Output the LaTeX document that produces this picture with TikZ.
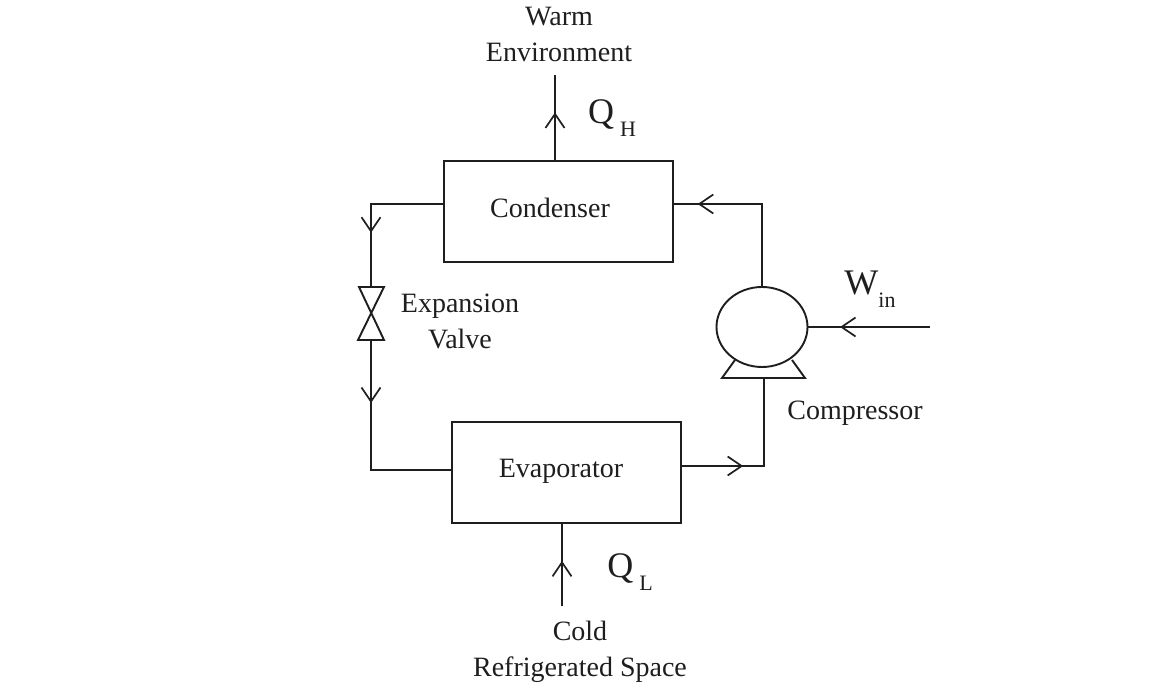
\documentclass[tikz,border=0pt]{standalone}
\usepackage{fontspec}
\setmainfont{Liberation Serif}
\usetikzlibrary{arrows.meta,decorations.markings,positioning,shapes.geometric}
\definecolor{inkline}{HTML}{1E1E1E}
\newcommand{\quantity}[3]{{\fontsize{36}{36}\selectfont #1}\hspace{#3}\raisebox{-13pt}{\fontsize{22}{22}\selectfont #2}}
\tikzset{x=1pt,y=-1pt,
    every path/.style={line width=1.9pt},
    unitbox/.style={draw,rectangle,minimum width=229pt,minimum height=101pt,inner sep=0},
    pumpbody/.style={draw,ellipse,minimum width=91pt,minimum height=80pt,inner sep=0},
    tag/.style={text=inkline,font=\fontsize{28}{36}\selectfont,inner sep=0,align=center},
    flow/.style={postaction={decorate,decoration={markings,mark=at position #1 with {\arrow[line width=1.7pt]{Straight Barb[length=14pt,width=19pt]}}}}}}
\begin{document}
\begin{tikzpicture}[color=inkline]
\useasboundingbox (0,0) rectangle (1165,684);

\node (condenser) [unitbox] at (558.5,211.5) {};
\node (evaporator) [unitbox] at (566.5,472.5) {};
\node (compressor) [pumpbody] at (762,327) {};

\node (condenser text) [tag] at (550,208) {Condenser};
\node (evaporator text) [tag] at (561,471) {Evaporator};
\node (compressor text) [tag] at (855,413) {Compressor};
\node (valve text) [tag] at (460,321) {Expansion\\Valve};
\node (warm text) [tag] at (559,34) {Warm\\Environment};
\node (cold text) [tag] at (580,652) {Cold\\Refrigerated Space};
\node (qh text) [tag] at (612,118) {\quantity{Q}{H}{6pt}};
\node (ql text) [tag] at (630,572) {\quantity{Q}{L}{6pt}};
\node (win text) [tag] at (870,289) {\quantity{W}{in}{0pt}};

% valve and compressor stand
\coordinate (valve top) at (371,287);
\coordinate (valve bottom) at (371,340);
\coordinate (stand) at (764,378);
\coordinate (warm end) at (555,75);
\coordinate (cold end) at (562,606);
\coordinate (work end) at (930,327);

\draw (359,287) -- (384,287) -- (358,340) -- (384,340) -- cycle;
\draw (735,360) -- (722,378) -- (805,378) -- (792,360);

% refrigerant loop
\draw [flow=0.65] ([yshift=7.5pt]condenser.west) -| (valve top);
\draw [flow=0.30] (valve bottom) |- ([yshift=2.5pt]evaporator.west);
\draw [flow=0.36] ([yshift=6.5pt]evaporator.east) -| (stand);
\draw [flow=0.86] (compressor.north) |- ([yshift=7.5pt]condenser.east);

% heat and work
\draw [flow=0.56] (condenser.north -| warm end) -- (warm end);
\draw [flow=0.55] (cold end) -- (evaporator.south -| cold end);
\draw [flow=0.74] (work end) -- (compressor.east);

\end{tikzpicture}
\end{document}
